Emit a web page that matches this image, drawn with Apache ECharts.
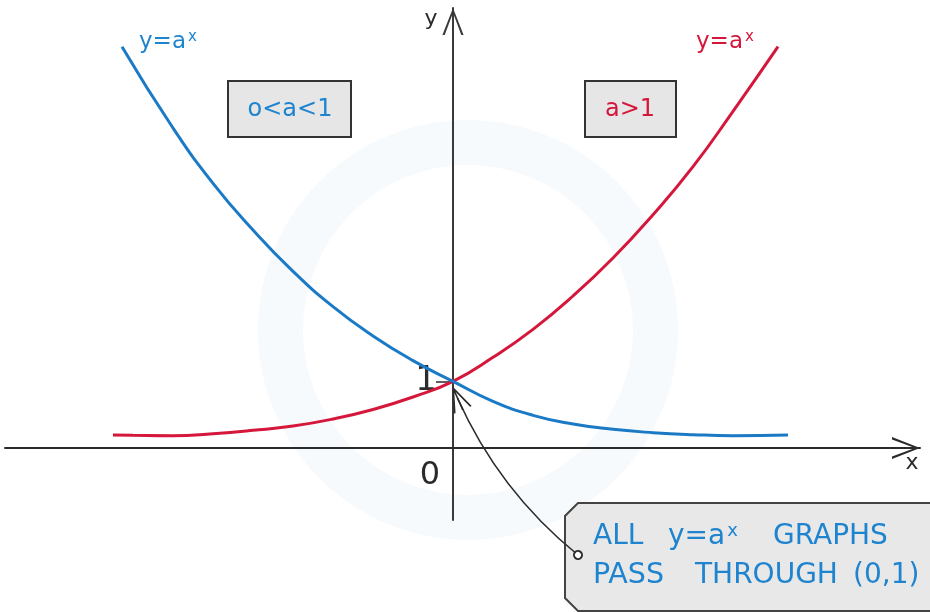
<!DOCTYPE html>
<html>
<head>
<meta charset="utf-8">
<script src="https://cdn.jsdelivr.net/npm/echarts@6/dist/echarts.min.js"></script>
<style>
  html, body { margin: 0; padding: 0; background: #fff; }
  #main { width: 930px; height: 612px; }
</style>
</head>
<body>
<div id="main"></div>
<script>
  // curve readings (x, y in math units)
  var blueX = [-3.31, -2.8, -2.4, -2.0, -1.6, -1.2, -0.8, -0.4, 0, 0.4, 0.8, 1.2, 1.6, 2.0, 2.4, 2.8, 3.35];
  var blueY = [6.02, 4.80, 3.97, 3.27, 2.65, 2.12, 1.68, 1.31, 1.0, 0.70, 0.49, 0.36, 0.28, 0.23, 0.20, 0.185, 0.195];
  var redX = [-3.4, -3.2, -2.8, -2.4, -2.0, -1.6, -1.2, -0.8, -0.4, 0, 0.4, 0.8, 1.2, 1.6, 2.0, 2.4, 2.8, 3.25];
  var redY = [0.195, 0.19, 0.185, 0.215, 0.265, 0.33, 0.435, 0.578, 0.765, 1.0, 1.36, 1.78, 2.28, 2.85, 3.50, 4.22, 5.05, 6.02];

  var yTickValues = [1];

  // arrow from the note box to (0,1)
  var noteStart = [1.25, -1.605];
  var noteEnd = [0.045, 0.75];

  var BLUE = '#1b7ac6';
  var TXTBLUE = '#1f84cf';
  var RED = '#d5173c';
  var INK = '#2b2b2b';
  var FONT = '"DejaVu Sans", sans-serif';
  var chevron = 'path://M11,0 L22,28 L19.6,28 L11,5 L2.4,28 L0,28 Z';
  // chevron with a stem, padded to a square box
  var noteArrow = 'path://M12,0 L21,24 L19.3,24 L12,4.5 L4.7,24 L3,24 Z M11.3,3 L12.7,3 L12.7,24 L11.3,24 Z' +
    ' M0,24 L0.01,24 L0,23.99 Z M24,24 L23.99,24 L24,23.99 Z';

  function pairs(xs, ys) {
    return xs.map(function (x, i) { return [x, ys[i]]; });
  }

  function powLabel(x, y, color, size, supSize) {
    return {
      type: 'text', z: 6,
      style: {
        text: '{a|y=a}{b|x}', x: x, y: y, verticalAlign: 'middle',
        rich: {
          a: { fontSize: size, fontFamily: FONT, fill: color },
          b: { fontSize: supSize, fontFamily: FONT, fill: color, verticalAlign: 'top', padding: [0, 0, Math.round(size * 0.4), 2] }
        }
      }
    };
  }

  function word(text, x, y, size, color) {
    return { type: 'text', z: 6, style: { text: text, x: x, y: y, verticalAlign: 'middle', font: size + 'px ' + FONT, fill: color } };
  }

  var myChart = echarts.init(document.getElementById('main'));

  myChart.setOption({
    animation: false,
    backgroundColor: '#fff',
    grid: [
      { left: 5, right: 10, top: 8, bottom: 92, outerBoundsMode: 'none', containLabel: false },
      // same scale, whole height, for the note arrow
      { left: 5, right: 10, top: 8, bottom: 0, outerBoundsMode: 'none', containLabel: false }
    ],
    xAxis: [{
      type: 'value',
      min: -4.48,
      max: 4.67,
      splitLine: { show: false },
      axisTick: { show: false },
      axisLabel: { show: false },
      axisLine: {
        onZero: true,
        lineStyle: { color: INK, width: 2 },
        symbol: ['none', chevron],
        symbolSize: [22, 28],
        symbolOffset: [0, -14]
      }
    }, {
      type: 'value', gridIndex: 1, min: -4.48, max: 4.67, show: false
    }],
    yAxis: [{
      type: 'value',
      min: -1.08,
      max: 6.6,
      splitLine: { show: false },
      axisLabel: { show: false },
      axisTick: {
        show: true,
        customValues: yTickValues,
        length: 17,
        lineStyle: { color: INK, width: 1.5 }
      },
      axisLine: {
        onZero: true,
        lineStyle: { color: '#3a3a3a', width: 2 },
        symbol: ['none', chevron],
        symbolSize: [22, 27],
        symbolOffset: [0, -13.5]
      }
    }, {
      type: 'value', gridIndex: 1, min: -2.46, max: 6.6, show: false
    }],
    series: [
      {
        name: 'red',
        type: 'line',
        smooth: true,
        showSymbol: false,
        lineStyle: { color: RED, width: 3 },
        data: pairs(redX, redY),
        z: 3
      },
      {
        name: 'blue',
        type: 'line',
        smooth: true,
        showSymbol: false,
        lineStyle: { color: BLUE, width: 3 },
        data: pairs(blueX, blueY),
        z: 4
      },
      {
        name: 'note',
        type: 'lines',
        coordinateSystem: 'cartesian2d',
        xAxisIndex: 1,
        yAxisIndex: 1,
        silent: true,
        z: 7,
        symbol: ['emptyCircle', noteArrow],
        symbolSize: [8, 26],
        lineStyle: { color: INK, width: 1.6, opacity: 1, curveness: 0.12 },
        data: [{ coords: [noteStart, noteEnd] }]
      }
    ],
    graphic: [
      // faint watermark ring
      { type: 'ring', silent: true, z: -10, shape: { cx: 468, cy: 330, r: 210, r0: 165 }, style: { fill: '#f7fafd' } },

      { type: 'rect', shape: { x: 228, y: 81, width: 123, height: 56 }, style: { fill: '#e6e6e6', stroke: '#333', lineWidth: 2 } },
      { type: 'text', style: { text: 'o<a<1', x: 290, y: 110, align: 'center', verticalAlign: 'middle', font: '24px ' + FONT, fill: TXTBLUE } },
      { type: 'rect', shape: { x: 585, y: 81, width: 91, height: 56 }, style: { fill: '#e6e6e6', stroke: '#333', lineWidth: 2 } },
      { type: 'text', style: { text: 'a>1', x: 630, y: 110, align: 'center', verticalAlign: 'middle', font: '24px ' + FONT, fill: RED } },

      powLabel(139, 42, TXTBLUE, 23, 15),
      powLabel(696, 42, RED, 23, 15),

      { type: 'text', style: { text: 'x', x: 912, y: 463, align: 'center', verticalAlign: 'middle', font: '22px ' + FONT, fill: INK } },
      { type: 'text', style: { text: 'y', x: 431, y: 19, align: 'center', verticalAlign: 'middle', font: '22px ' + FONT, fill: INK } },
      { type: 'text', style: { text: '0', x: 430, y: 476, align: 'center', verticalAlign: 'middle', font: '32px ' + FONT, fill: INK } },
      { type: 'text', style: { text: '1', x: 426, y: 381, align: 'center', verticalAlign: 'middle', font: '34px ' + FONT, fill: INK } },

      // note box
      {
        type: 'polygon',
        z: 5,
        shape: { points: [[578, 503], [936, 503], [936, 611], [578, 611], [565, 598], [565, 516]] },
        style: { fill: '#e8e8e8', stroke: '#444', lineWidth: 2 }
      },
      word('ALL', 593, 537, 28, TXTBLUE),
      {
        type: 'text', z: 6,
        style: {
          text: '{t|y=a}{s|x}', x: 668, y: 537, verticalAlign: 'middle',
          rich: {
            t: { fontSize: 28, fontFamily: FONT, fill: TXTBLUE },
            s: { fontSize: 18, fontFamily: FONT, fill: TXTBLUE, verticalAlign: 'top', padding: [0, 0, 11, 2] }
          }
        }
      },
      word('GRAPHS', 773, 537, 28, TXTBLUE),
      word('PASS', 593, 576, 28.5, TXTBLUE),
      word('THROUGH', 695, 576, 28, TXTBLUE),
      word('(0,1)', 853, 576, 28, TXTBLUE)
    ]
  });
</script>
</body>
</html>
